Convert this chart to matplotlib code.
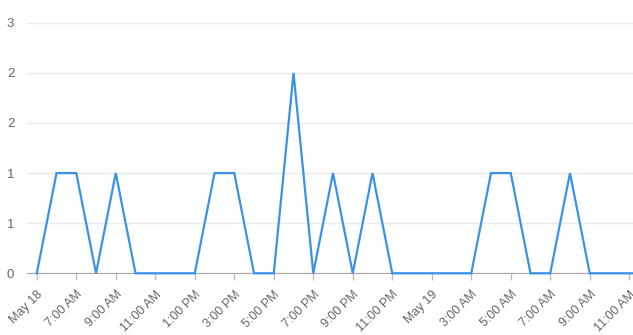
import matplotlib
matplotlib.use("Agg")
import matplotlib.pyplot as plt

plt.rcParams["font.family"] = ["Liberation Sans", "DejaVu Sans"]

# hourly counts, starting 5:00 AM May 18
counts = [0, 1, 1, 0, 1, 0, 0, 0, 0, 1, 1, 0, 0, 2, 0, 1,
          0, 1, 0, 0, 0, 0, 0, 1, 1, 0, 0, 1, 0, 0, 0, 0]

# one label every two hours
tick_labels = ["May 18", "7:00 AM", "9:00 AM", "11:00 AM", "1:00 PM", "3:00 PM",
               "5:00 PM", "7:00 PM", "9:00 PM", "11:00 PM", "May 19", "3:00 AM",
               "5:00 AM", "7:00 AM", "9:00 AM", "11:00 AM"]

y_ticks = [0, 0.5, 1, 1.5, 2, 2.5]
y_tick_labels = ["0", "1", "1", "2", "2", "3"]

fig = plt.figure(figsize=(6.33, 3.35), dpi=100)
ax = fig.add_axes([0.0422, 0.1842, 0.9578, 0.7478])

x = list(range(len(counts)))
ax.plot(x, counts, color="#3a92e8", lw=1.6, solid_joinstyle="miter", clip_on=False)

ax.set_xlim(-0.51, 30.19)
ax.set_ylim(0, 2.5)

ax.set_yticks(y_ticks)
ax.set_yticklabels(y_tick_labels)
ax.set_xticks(range(0, 2 * len(tick_labels), 2))
ax.set_xticklabels(tick_labels, rotation=45, ha="right", va="top",
                   rotation_mode="anchor")

ax.grid(axis="y", color="#e9e9e9", lw=1)
ax.set_axisbelow(True)
for side in ["left", "right", "top"]:
    ax.spines[side].set_visible(False)
ax.spines["bottom"].set_color("#a8a8a8")
ax.spines["bottom"].set_zorder(1)

ax.tick_params(axis="y", length=0, pad=9, labelsize=9.5, labelcolor="#666666")
ax.tick_params(axis="x", length=5, width=1, color="#bdbdbd", pad=6,
               labelsize=9, labelcolor="#666666")

fig.savefig("out.png", dpi=100)
